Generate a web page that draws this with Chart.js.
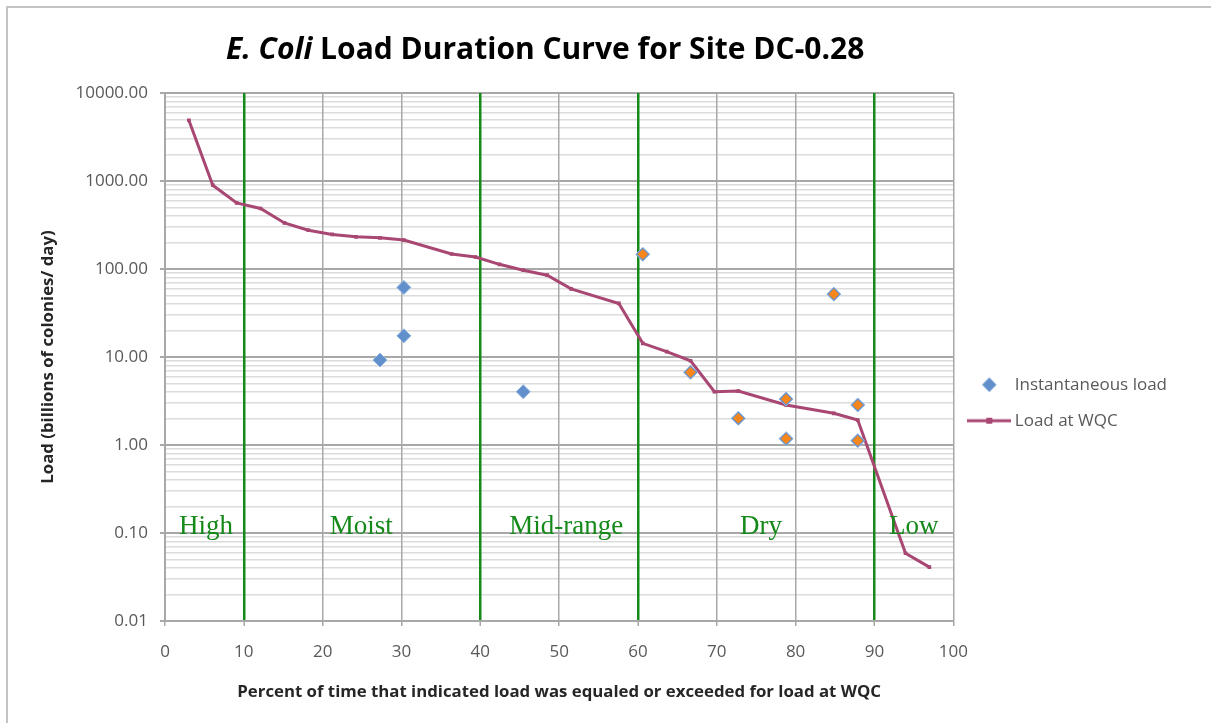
<!DOCTYPE html>
<html><head><meta charset="utf-8">
<script src="https://cdn.jsdelivr.net/npm/chart.js@4.4.0/dist/chart.umd.min.js"></script>
<style>
html,body{margin:0;padding:0;background:#fff;}
#wrap{position:relative;width:1211px;height:723px;overflow:hidden;background:#fff;}
#frame{position:absolute;left:6px;top:6px;width:1300px;height:800px;border-left:2px solid #c4c4c4;border-top:2px solid #c4c4c4;}
#title{position:absolute;left:226px;top:33px;font-family:'Open Sans',sans-serif;font-weight:bold;font-size:30px;line-height:30px;white-space:nowrap;color:#000;}
canvas{position:absolute;left:0;top:0;}
</style></head>
<body><div id="wrap"><div id="frame"></div><canvas id="c" width="1211" height="723"></canvas><div id="title"><i>E. Coli</i> Load Duration Curve for Site DC-0.28</div></div>
<script>
// ---- data ----
const durationPercent = [3.03, 6.06, 9.09, 12.12, 15.15, 18.18, 21.21, 24.24, 27.27, 30.30, 36.36, 39.39, 42.42, 45.45, 48.48, 51.52, 57.58, 60.61, 63.64, 66.67, 69.70, 72.73, 78.79, 84.85, 87.88, 93.94, 96.97];
const loadAtWQC = [4900, 896, 564, 487, 334, 276, 247, 232, 226, 213, 148, 137, 113, 97, 85, 59.5, 40.6, 14.3, 11.5, 9.06, 4.03, 4.1, 2.85, 2.29, 1.92, 0.0589, 0.0409];
const samplePercent = [27.27, 30.30, 30.30, 45.45, 60.61, 66.67, 72.73, 78.79, 78.79, 84.85, 87.88, 87.88];
const sampleLoad = [9.23, 61.8, 17.4, 4.03, 147, 6.69, 2.01, 3.33, 1.18, 51.8, 2.85, 1.12];
const flaggedPercent = [60.61, 66.67, 72.73, 78.79, 78.79, 84.85, 87.88, 87.88];
const flaggedLoad = [147, 6.69, 2.01, 3.33, 1.18, 51.8, 2.85, 1.12];
const yTickValues = [0.01, 0.1, 1, 10, 100, 1000, 10000];
const yTickLabels = ['0.01', '0.10', '1.00', '10.00', '100.00', '1000.00', '10000.00'];
const zoneBoundaries = [10, 40, 60, 90];
const zoneNames = ['High', 'Moist', 'Mid-range', 'Dry', 'Low'];
const zoneLabelX = [5.2, 24.9, 50.9, 75.6, 95.0];
const zoneLabelY = 0.1;

const BLUE = '#6190cc', ORANGE = '#f7861c', LINE = '#a94773', GREEN = '#15891a';
const GRID = '#a8a8a8', MINOR = '#dcdcdc', TXT = '#595959';

function isMajor(v){ return yTickValues.some(t => Math.abs(v - t) / t < 1e-6); }

function diamondIcon(){
  const c = document.createElement('canvas'); c.width = 16; c.height = 16;
  const g = c.getContext('2d'); g.fillStyle = BLUE;
  g.beginPath(); g.moveTo(8,0.8); g.lineTo(15.2,8); g.lineTo(8,15.2); g.lineTo(0.8,8); g.closePath(); g.fill();
  return c;
}
function lineIcon(){
  const c = document.createElement('canvas'); c.width = 44; c.height = 8;
  const g = c.getContext('2d'); g.strokeStyle = LINE; g.lineWidth = 3;
  g.beginPath(); g.moveTo(0,4); g.lineTo(44,4); g.stroke();
  g.fillStyle = LINE; g.fillRect(19,1,6,6);
  return c;
}
const icons = {'Instantaneous load': diamondIcon(), 'Load at WQC': lineIcon()};

const zonePlugin = {
  id: 'zoneLabels',
  afterDatasetsDraw(chart){
    const {ctx, scales:{x, y}} = chart;
    ctx.save();
    ctx.font = '27px "Liberation Serif", serif';
    ctx.fillStyle = GREEN; ctx.textAlign = 'center'; ctx.textBaseline = 'alphabetic';
    zoneNames.forEach((n, i) => {
      ctx.fillText(n, x.getPixelForValue(zoneLabelX[i]), y.getPixelForValue(zoneLabelY) + 1);
    });
    ctx.restore();
  }
};

new Chart(document.getElementById('c'), {
  type: 'scatter',
  data: { datasets: [
    { label: '', data: flaggedPercent.map((v,i)=>({x:v, y:flaggedLoad[i]})), pointStyle:'rectRot', pointRadius:5.3, pointBackgroundColor:ORANGE, pointBorderWidth:0, order:0 },
    { label: 'Instantaneous load', data: samplePercent.map((v,i)=>({x:v, y:sampleLoad[i]})), pointStyle:'rectRot', pointRadius:7, pointBackgroundColor:BLUE, pointBorderColor:'#8fb3de', pointBorderWidth:1, order:1 },
    { label: 'Load at WQC', data: durationPercent.map((v,i)=>({x:v, y:loadAtWQC[i]})), showLine:true, borderColor:LINE, borderWidth:3, backgroundColor:LINE, pointStyle:'rect', pointRadius:2.6, pointBackgroundColor:LINE, pointBorderWidth:0, tension:0, order:2 }
  ]},
  options: {
    responsive:false, animation:false, devicePixelRatio:1,
    layout: { padding: { left:0, right:34, top:93, bottom:0 } },
    plugins: {
      tooltip: { enabled:false },
      legend: {
        position:'right', align:'start',
        title: { display:true, text:' ', font:{size:1}, padding:{top:0, bottom:263} },
        labels: {
          usePointStyle:true, pointStyleWidth:34, padding:19, color:TXT,
          font:{ family:'Open Sans', size:17 },
          filter: item => item.text !== '',
          generateLabels(chart){
            const items = Chart.defaults.plugins.legend.labels.generateLabels(chart);
            items.forEach(it => { if (icons[it.text]) it.pointStyle = icons[it.text]; it.fontColor = TXT; });
            return items;
          }
        }
      }
    },
    scales: {
      x: {
        type:'linear', min:0, max:100,
        ticks:{ stepSize:10, color:TXT, font:{family:'Open Sans', size:17}, padding:16, maxRotation:0 },
        grid:{
          z:-1,
          color: c => (c.tick && zoneBoundaries.includes(c.tick.value)) ? GREEN : GRID,
          lineWidth: c => (c.tick && zoneBoundaries.includes(c.tick.value)) ? 2.5 : 1.5,
          tickLength:5, tickColor:GRID, tickWidth:1.5
        },
        border:{ color:GRID, width:2 },
        title:{ display:true, text:'Percent of time that indicated load was equaled or exceeded for load at WQC', color:'#262626', font:{family:'Open Sans', size:16.8, weight:'bold'}, padding:{top:0, bottom:21} },
        afterFit(s){ s.height = 102; }
      },
      y: {
        type:'logarithmic', min:0.01, max:10000,
        afterBuildTicks(scale){
          const vals = [];
          for (let i = 0; i < yTickValues.length - 1; i++) {
            for (let m = 1; m <= 9; m++) vals.push(yTickValues[i] * m);
          }
          vals.push(yTickValues[yTickValues.length - 1]);
          scale.ticks = vals.map(v => ({ value: v, major: isMajor(v) }));
        },
        ticks:{
          autoSkip:false, color:TXT, font:{family:'Open Sans', size:17}, padding:12,
          callback(v){ const i = yTickValues.findIndex(t => Math.abs(v - t) / t < 1e-6); return i >= 0 ? yTickLabels[i] : ''; }
        },
        grid:{
          z:-2,
          color: c => (c.tick && isMajor(c.tick.value)) ? GRID : MINOR,
          lineWidth: c => (c.tick && isMajor(c.tick.value)) ? 2 : 1.5,
          tickLength:5,
          tickColor: c => (c.tick && isMajor(c.tick.value)) ? GRID : 'rgba(0,0,0,0)'
        },
        border:{ color:GRID, width:2 },
        title:{ display:true, text:'Load (billions of colonies/ day)', color:'#262626', font:{family:'Open Sans', size:16.8, weight:'bold'}, padding:{top:38, bottom:0} },
        afterFit(s){ s.width = 165; }
      }
    }
  },
  plugins: [zonePlugin]
});
</script>
</body></html>
